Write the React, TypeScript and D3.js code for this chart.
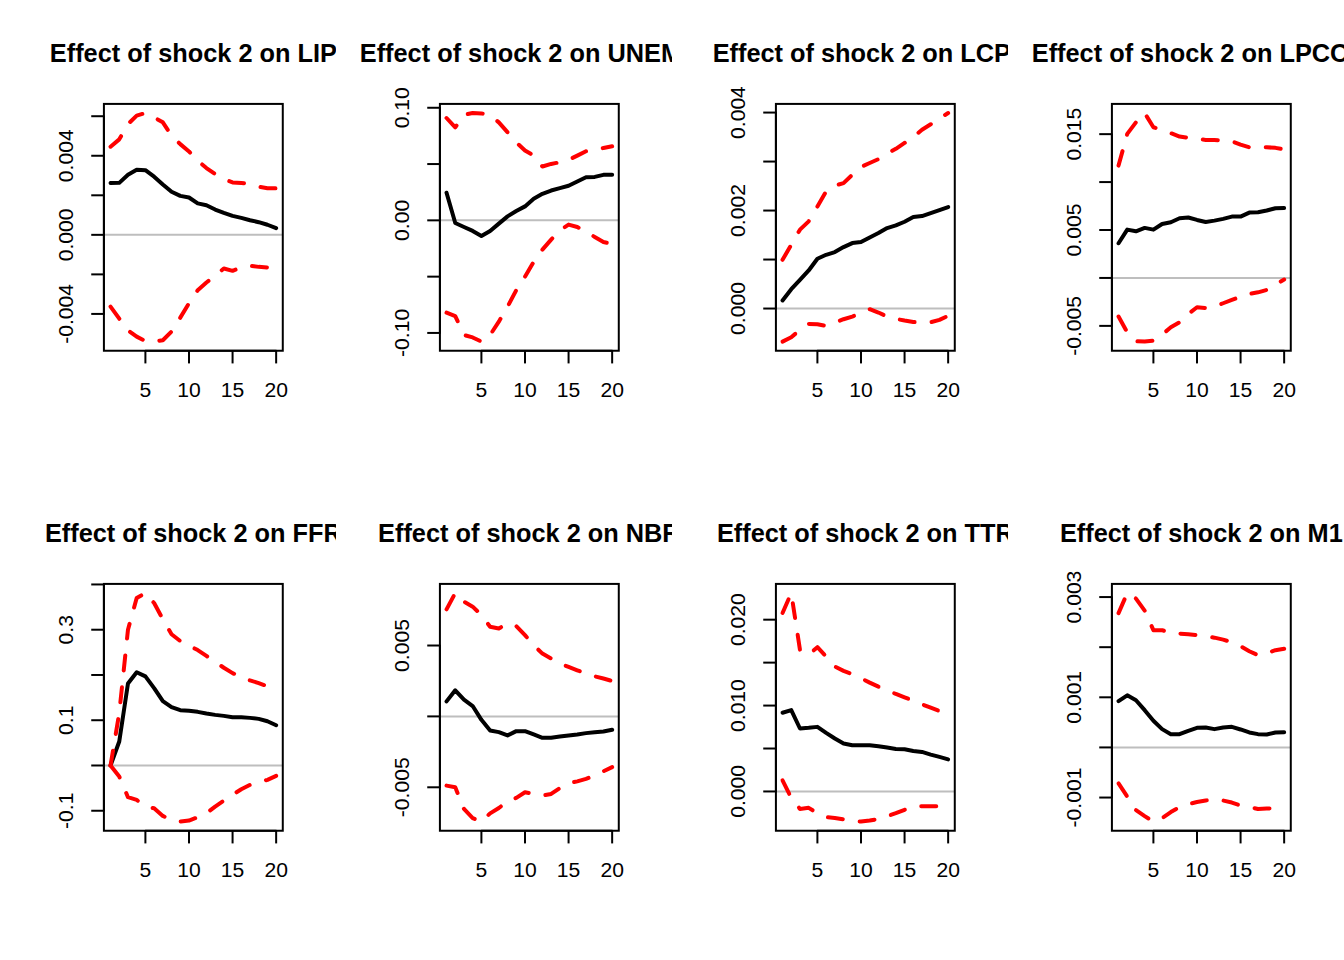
import React from 'react';
import * as d3 from 'd3';

// horizons of the impulse responses
const horizons = [1, 2, 3, 4, 5, 6, 7, 8, 9, 10, 11, 12, 13, 14, 15, 16, 17, 18, 19, 20];
const xTicks = [5, 10, 15, 20];

const lipIrf = [0.00262, 0.00263, 0.00304, 0.00329, 0.00327, 0.00294, 0.00255, 0.00218, 0.00197, 0.00189, 0.00159, 0.0015, 0.00128, 0.00111, 0.00096, 0.00086, 0.00074, 0.00064, 0.00051, 0.00034];
const lipUpper = [0.00446, 0.00483, 0.0056, 0.00603, 0.00616, 0.00594, 0.00569, 0.00501, 0.00459, 0.00422, 0.00375, 0.00338, 0.00307, 0.00282, 0.00265, 0.00262, 0.00257, 0.00243, 0.00236, 0.00235];
const lipLower = [-0.00363, -0.00424, -0.00483, -0.00515, -0.00537, -0.0054, -0.00533, -0.00489, -0.00419, -0.00346, -0.0028, -0.00241, -0.00208, -0.0017, -0.00182, -0.00165, -0.00157, -0.00162, -0.00165, -0.00167];
const lipTicks = [-0.004, -0.002, 0, 0.002, 0.004, 0.006];
const lipLabels = ['-0.004', '', '0.000', '', '0.004', ''];

const unempIrf = [0.0245, -0.0024, -0.0059, -0.0094, -0.0139, -0.0094, -0.0029, 0.0035, 0.0083, 0.0124, 0.0192, 0.0236, 0.0265, 0.0286, 0.0307, 0.0345, 0.0383, 0.0386, 0.0404, 0.0404];
const unempUpper = [0.0909, 0.0826, 0.0938, 0.0953, 0.095, 0.0935, 0.087, 0.0782, 0.0693, 0.062, 0.0575, 0.0478, 0.0501, 0.0516, 0.0537, 0.0575, 0.0614, 0.0625, 0.0643, 0.0658];
const unempLower = [-0.082, -0.085, -0.1018, -0.104, -0.1077, -0.1018, -0.09, -0.0767, -0.062, -0.0501, -0.0369, -0.026, -0.0171, -0.0088, -0.0038, -0.0059, -0.0103, -0.0147, -0.0192, -0.021];
const unempTicks = [-0.1, -0.05, 0, 0.05, 0.1];
const unempLabels = ['-0.10', '', '0.00', '', '0.10'];

const lcpiIrf = [0.000164, 0.000395, 0.000586, 0.000777, 0.001015, 0.001097, 0.001152, 0.001254, 0.001336, 0.001356, 0.001451, 0.00154, 0.001642, 0.001697, 0.001772, 0.001867, 0.001888, 0.001949, 0.00201, 0.002072];
const lcpiUpper = [0.000995, 0.0013, 0.00161, 0.00178, 0.00208, 0.00239, 0.00251, 0.00256, 0.00273, 0.00289, 0.00297, 0.00305, 0.00316, 0.00326, 0.00338, 0.0035, 0.00365, 0.00376, 0.00388, 0.00399];
const lcpiLower = [-0.000675, -0.000586, -0.000436, -0.000313, -0.00032, -0.000354, -0.000286, -0.000218, -0.000164, -0.000095, -0.000014, -0.000082, -0.000164, -0.000211, -0.000245, -0.000273, -0.000286, -0.00028, -0.000232, -0.00015];
const lcpiTicks = [0, 0.001, 0.002, 0.003, 0.004];
const lcpiLabels = ['0.000', '', '0.002', '', '0.004'];

const lpcomIrf = [0.00362, 0.00504, 0.00487, 0.00522, 0.00504, 0.00563, 0.00581, 0.00623, 0.0063, 0.00605, 0.00584, 0.00598, 0.00616, 0.0064, 0.0064, 0.00682, 0.00685, 0.00703, 0.00727, 0.0073];
const lpcomUpper = [0.01172, 0.01503, 0.01624, 0.0172, 0.01572, 0.01544, 0.0151, 0.01475, 0.01461, 0.0145, 0.0144, 0.0144, 0.01433, 0.01426, 0.01391, 0.01363, 0.01363, 0.01363, 0.01357, 0.0134];
const lpcomLower = [-0.00403, -0.00567, -0.00661, -0.00664, -0.00654, -0.00591, -0.00515, -0.00463, -0.00376, -0.00306, -0.00313, -0.00299, -0.00264, -0.0023, -0.00195, -0.00167, -0.0015, -0.00125, -0.0007, -0.00017];
const lpcomTicks = [-0.005, 0, 0.005, 0.01, 0.015];
const lpcomLabels = ['-0.005', '', '0.005', '', '0.015'];

const ffrIrf = [0, 0.053, 0.181, 0.206, 0.197, 0.171, 0.142, 0.1288, 0.1221, 0.1207, 0.1185, 0.1148, 0.1118, 0.1096, 0.1066, 0.1066, 0.1052, 0.103, 0.0978, 0.0889];
const ffrUpper = [0, 0.116, 0.3, 0.37, 0.381, 0.359, 0.323, 0.29, 0.275, 0.265, 0.255, 0.242, 0.229, 0.216, 0.204, 0.196, 0.188, 0.182, 0.175, 0.17];
const ffrLower = [0, -0.0244, -0.0701, -0.076, -0.0908, -0.0945, -0.1114, -0.1203, -0.124, -0.1218, -0.1144, -0.1055, -0.0908, -0.0775, -0.0649, -0.0524, -0.0428, -0.0376, -0.0317, -0.0229];
const ffrTicks = [-0.1, 0, 0.1, 0.2, 0.3, 0.4];
const ffrLabels = ['-0.1', '', '0.1', '', '0.3', ''];

const nbrIrf = [0.00106, 0.00184, 0.00118, 0.00073, -0.00024, -0.00099, -0.00111, -0.00134, -0.00104, -0.00104, -0.00127, -0.00151, -0.00151, -0.00142, -0.00134, -0.00127, -0.00118, -0.00111, -0.00106, -0.00094];
const nbrUpper = [0.00755, 0.0087, 0.00809, 0.00774, 0.00715, 0.00632, 0.0062, 0.00656, 0.00637, 0.00573, 0.00502, 0.00443, 0.00408, 0.00373, 0.00349, 0.00325, 0.00302, 0.00283, 0.00267, 0.0025];
const nbrLower = [-0.00488, -0.005, -0.00653, -0.00717, -0.00742, -0.00684, -0.00646, -0.00599, -0.00575, -0.00535, -0.00547, -0.00559, -0.00547, -0.00505, -0.00472, -0.00458, -0.00441, -0.00417, -0.00387, -0.00358];
const nbrTicks = [-0.005, 0, 0.005];
const nbrLabels = ['-0.005', '', '0.005'];

const ttrIrf = [0.00916, 0.00947, 0.00733, 0.00741, 0.00752, 0.00682, 0.00616, 0.00558, 0.00538, 0.00538, 0.00538, 0.00526, 0.00511, 0.00495, 0.00491, 0.00472, 0.0046, 0.00429, 0.00402, 0.00374];
const ttrUpper = [0.02078, 0.0231, 0.01649, 0.01591, 0.0168, 0.01571, 0.01454, 0.01404, 0.01365, 0.01318, 0.01267, 0.0122, 0.01181, 0.01135, 0.01096, 0.01057, 0.01014, 0.00975, 0.00936, 0.00897];
const ttrLower = [0.00129, -0.00074, -0.00203, -0.00191, -0.00253, -0.003, -0.00308, -0.00324, -0.00339, -0.00351, -0.00339, -0.0032, -0.00289, -0.00253, -0.00214, -0.00175, -0.00172, -0.00172, -0.00172, -0.0017];
const ttrTicks = [0, 0.005, 0.01, 0.015, 0.02];
const ttrLabels = ['0.000', '', '0.010', '', '0.020'];

const m1Irf = [0.000922, 0.00104, 0.000942, 0.000743, 0.000531, 0.000365, 0.000265, 0.000265, 0.000332, 0.000391, 0.000398, 0.000365, 0.000398, 0.000411, 0.000358, 0.000299, 0.000265, 0.000259, 0.000299, 0.000305];
const m1Upper = [0.00268, 0.00308, 0.00297, 0.00273, 0.00234, 0.00234, 0.00228, 0.00227, 0.00226, 0.00224, 0.00222, 0.00219, 0.00215, 0.0021, 0.00202, 0.00192, 0.00184, 0.00188, 0.00194, 0.00197];
const m1Lower = [-0.000716, -0.00098, -0.00125, -0.00137, -0.00148, -0.00141, -0.00129, -0.00119, -0.00113, -0.00109, -0.00106, -0.00103, -0.00106, -0.0011, -0.00116, -0.00119, -0.00123, -0.00122, -0.00121, -0.00121];
const m1Ticks = [-0.001, 0, 0.001, 0.002, 0.003];
const m1Labels = ['-0.001', '', '0.001', '', '0.003'];

const variables = ['LIP', 'UNEMP', 'LCPI', 'LPCOM', 'FFR', 'NBR', 'TTR', 'M1'];

const panels = [
  { irf: lipIrf, upper: lipUpper, lower: lipLower, ticks: lipTicks, labels: lipLabels },
  { irf: unempIrf, upper: unempUpper, lower: unempLower, ticks: unempTicks, labels: unempLabels },
  { irf: lcpiIrf, upper: lcpiUpper, lower: lcpiLower, ticks: lcpiTicks, labels: lcpiLabels },
  { irf: lpcomIrf, upper: lpcomUpper, lower: lpcomLower, ticks: lpcomTicks, labels: lpcomLabels },
  { irf: ffrIrf, upper: ffrUpper, lower: ffrLower, ticks: ffrTicks, labels: ffrLabels },
  { irf: nbrIrf, upper: nbrUpper, lower: nbrLower, ticks: nbrTicks, labels: nbrLabels },
  { irf: ttrIrf, upper: ttrUpper, lower: ttrLower, ticks: ttrTicks, labels: ttrLabels },
  { irf: m1Irf, upper: m1Upper, lower: m1Lower, ticks: m1Ticks, labels: m1Labels },
].map((p, i) => ({ ...p, title: 'Effect of shock 2 on ' + variables[i] }));

const W = 1344;
const H = 960;
const colW = 336;
const rowH = 480;
const lineH = 25.344; // one margin line at this device size
const fontSize = 21.12;
const titleSize = 25.344;
const margin = { top: 4.1 * lineH, right: 2.1 * lineH, bottom: 5.1 * lineH, left: 4.1 * lineH };
const tickLen = 0.5 * lineH;
const font = '"Liberation Sans", Arial, Helvetica, sans-serif';

const Panel = ({ p, idx }) => {
  const col = idx % 4;
  const row = Math.floor(idx / 4);
  const left = margin.left;
  const right = colW - margin.right;
  const top = margin.top;
  const bottom = rowH - margin.bottom;

  // R-style 4% padding on both axes
  const x0 = 1, x1 = 20;
  const xPad = (x1 - x0) * 0.04;
  const x = d3.scaleLinear().domain([x0 - xPad, x1 + xPad]).range([left, right]);

  const all = [...p.irf, ...p.upper, ...p.lower];
  const [lo, hi] = d3.extent(all) as [number, number];
  const yPad = (hi - lo) * 0.04;
  const y = d3.scaleLinear().domain([lo - yPad, hi + yPad]).range([bottom, top]);

  const line = d3
    .line<number>()
    .x((_, i) => x(horizons[i]))
    .y((d) => y(d));

  const ticks = p.ticks.filter((t) => y(t) >= top - 0.5 && y(t) <= bottom + 0.5);
  const clipId = 'plot-clip-' + idx;
  const titleClip = 'title-clip-' + idx;

  return (
    <g transform={`translate(${col * colW},${row * rowH})`}>
      <defs>
        <clipPath id={clipId}>
          <rect x={left} y={top} width={right - left} height={bottom - top} />
        </clipPath>
        <clipPath id={titleClip}>
          <rect x={0} y={0} width={colW} height={rowH} />
        </clipPath>
      </defs>

      <g clipPath={`url(#${clipId})`}>
        <line x1={left} x2={right} y1={y(0)} y2={y(0)} stroke="#BEBEBE" strokeWidth={2} />
        <path d={line(p.irf)!} fill="none" stroke="#000" strokeWidth={4} strokeLinejoin="round" strokeLinecap="round" />
        <path d={line(p.upper)!} fill="none" stroke="#FF0000" strokeWidth={4} strokeDasharray="15 17" strokeLinejoin="round" strokeLinecap="round" />
        <path d={line(p.lower)!} fill="none" stroke="#FF0000" strokeWidth={4} strokeDasharray="15 17" strokeLinejoin="round" strokeLinecap="round" />
      </g>

      <rect x={left} y={top} width={right - left} height={bottom - top} fill="none" stroke="#000" strokeWidth={2} />

      {/* x axis */}
      <line x1={x(xTicks[0])} x2={x(xTicks[xTicks.length - 1])} y1={bottom} y2={bottom} stroke="#000" strokeWidth={2} strokeLinecap="round" />
      {xTicks.map((t) => (
        <g key={'x' + t}>
          <line x1={x(t)} x2={x(t)} y1={bottom} y2={bottom + tickLen} stroke="#000" strokeWidth={2} />
          <text x={x(t)} y={bottom + 46.5} textAnchor="middle" fontSize={fontSize} fontFamily={font}>
            {t}
          </text>
        </g>
      ))}

      {/* y axis */}
      <line x1={left} x2={left} y1={y(ticks[0])} y2={y(ticks[ticks.length - 1])} stroke="#000" strokeWidth={2} strokeLinecap="round" />
      {ticks.map((t) => {
        const k = p.ticks.indexOf(t);
        return (
          <g key={'y' + k}>
            <line x1={left - tickLen} x2={left} y1={y(t)} y2={y(t)} stroke="#000" strokeWidth={2} />
            {p.labels[k] && (
              <text
                transform={`translate(${left - 30.5},${y(t)}) rotate(-90)`}
                textAnchor="middle"
                fontSize={fontSize}
                fontFamily={font}
              >
                {p.labels[k]}
              </text>
            )}
          </g>
        );
      })}

      {/* title, clipped to its own figure column as in the original */}
      <g clipPath={`url(#${titleClip})`}>
        <text
          x={(left + right) / 2}
          y={top - 42}
          textAnchor="middle"
          fontSize={titleSize}
          fontWeight="bold"
          fontFamily={font}
        >
          {p.title}
        </text>
      </g>
    </g>
  );
};

export default function App() {
  return (
    <svg
      width={W}
      height={H}
      viewBox={`0 0 ${W} ${H}`}
      style={{ position: 'absolute', left: 0, top: 0, background: '#fff' }}
    >
      <rect width={W} height={H} fill="#fff" />
      {panels.map((p, i) => (
        <Panel key={i} p={p} idx={i} />
      ))}
    </svg>
  );
}
